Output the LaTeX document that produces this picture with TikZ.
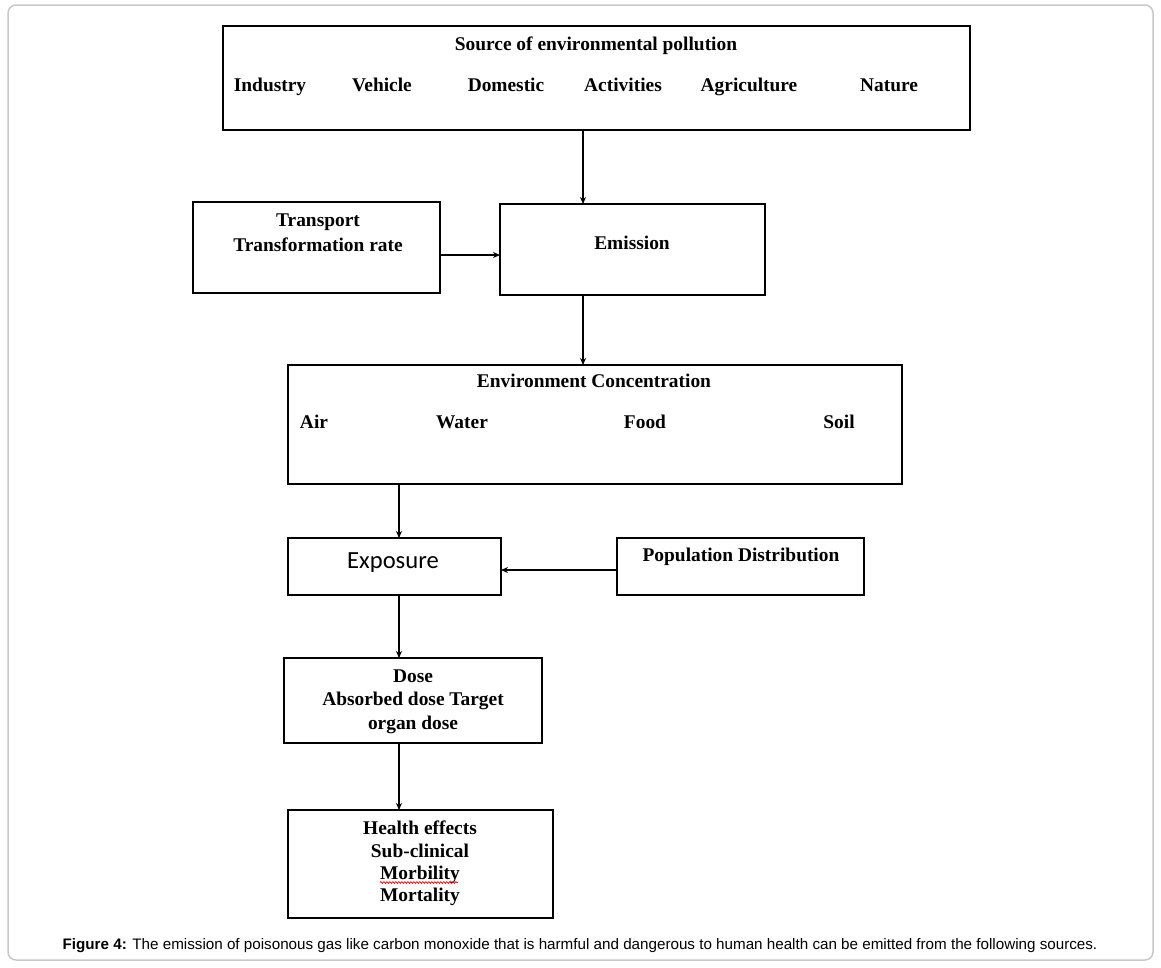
\documentclass[tikz,border=0pt]{standalone}
\usepackage{fontspec}
\setmainfont{Liberation Serif}
\newfontfamily\capfont{Liberation Sans}
\newfontfamily\calfont{Carlito}
\usetikzlibrary{arrows.meta,decorations.pathmorphing}
\definecolor{framegray}{RGB}{200,200,200}
\begin{document}
\begin{tikzpicture}[x=1pt,y=-1pt,
  box/.style={draw,line width=1.6pt,inner sep=0pt,outer sep=0pt},
  lbl/.style={font=\fontsize{19.4}{23}\selectfont\bfseries,inner sep=0pt,anchor=base},
  arr/.style={line width=1.4pt,-{Stealth[length=7pt,width=6pt]}}]
\useasboundingbox (0,0) rectangle (1161,967);
% outer frame
\draw[line width=1.5pt,framegray,rounded corners=8pt] (8,5) rectangle (1153,960);

% boxes
\node[box,minimum width=747pt,minimum height=104pt] (src) at (596.5,78) {};
\node[box,minimum width=247pt,minimum height=91pt] (trans) at (316.5,247.5) {};
\node[box,minimum width=265pt,minimum height=91pt] (emis) at (632.5,249.5) {};
\node[box,minimum width=614pt,minimum height=119pt] (env) at (595,424.5) {};
\node[box,minimum width=213pt,minimum height=57pt] (expo) at (394.5,566.5) {};
\node[box,minimum width=247pt,minimum height=57pt] (pop) at (740.5,566.5) {};
\node[box,minimum width=258pt,minimum height=85pt] (dose) at (413,700.5) {};
\node[box,minimum width=265pt,minimum height=108pt] (health) at (420.5,864) {};

% texts
\node[lbl] (t1) at (596,50.5) {Source of environmental pollution};
\node[lbl] (s1) at (270,91.5) {Industry};
\node[lbl] (s2) at (382,91.5) {Vehicle};
\node[lbl] (s3) at (506,91.5) {Domestic};
\node[lbl] (s4) at (623,91.5) {Activities};
\node[lbl] (s5) at (749,91.5) {Agriculture};
\node[lbl] (s6) at (889,91.5) {Nature};

\node[lbl] (tr1) at (318,226.5) {Transport};
\node[lbl] (tr2) at (318,251.5) {Transformation rate};

\node[lbl] (em) at (632,249.5) {Emission};

\node[lbl] (ec) at (594,387.5) {Environment Concentration};
\node[lbl] (e1) at (314,428.5) {Air};
\node[lbl] (e2) at (462,428.5) {Water};
\node[lbl] (e3) at (645,428.5) {Food};
\node[lbl] (e4) at (839,428.5) {Soil};

\node[font=\fontsize{24.6}{28}\calfont,inner sep=0pt,anchor=base] (ex) at (393,568) {Exposure};
\node[lbl] (pd) at (741,561.5) {Population Distribution};

\node[lbl] (d1) at (413,682.5) {Dose};
\node[lbl] (d2) at (413,705.5) {Absorbed dose Target};
\node[lbl] (d3) at (413,729.5) {organ dose};

\node[lbl] (h1) at (420,834.5) {Health effects};
\node[lbl] (h2) at (420,857.5) {Sub-clinical};
\node[lbl] (h3) at (420,879.5) {Morbility};
\node[lbl] (h4) at (420,901.5) {Mortality};
\draw[red,line width=0.7pt,decorate,decoration={snake,amplitude=0.9pt,segment length=3pt}]
  (h3.base west) ++(0,3) -- ++(78,0);

% connectors
\coordinate (xa) at (583,0);
\coordinate (xb) at (399,0);
\coordinate (ya) at (0,255);
\coordinate (yb) at (0,570);
\draw[arr] (src.south -| xa) -- (emis.north -| xa);
\draw[arr] (trans.east |- ya) -- (emis.west |- ya);
\draw[arr] (emis.south -| xa) -- (env.north -| xa);
\draw[arr] (env.south -| xb) -- (expo.north -| xb);
\draw[arr] (pop.west |- yb) -- (expo.east |- yb);
\draw[arr] (expo.south -| xb) -- (dose.north -| xb);
\draw[arr] (dose.south -| xb) -- (health.north -| xb);

% caption
\node[font=\fontsize{15.2}{18}\capfont,inner sep=0pt,anchor=base] (cap) at (580,949)
  {\textbf{Figure 4:} The emission of poisonous gas like carbon monoxide that is harmful and dangerous to human health can be emitted from the following sources.};
\end{tikzpicture}
\end{document}
